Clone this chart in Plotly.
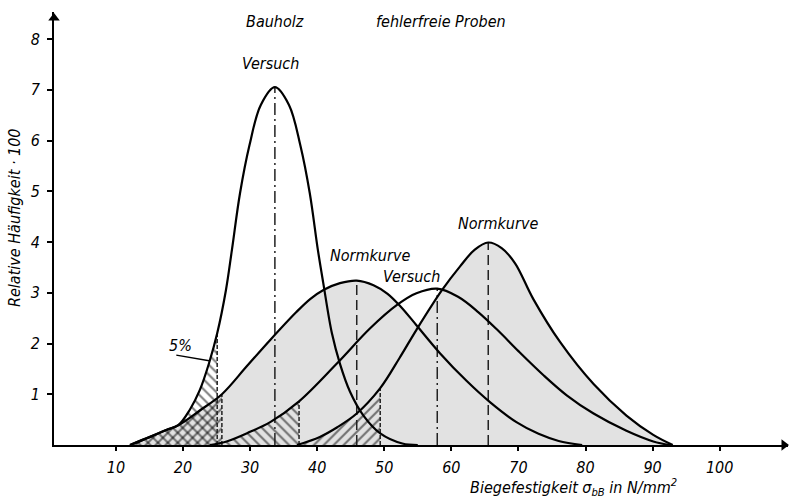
import plotly.graph_objects as go

# ---------------- data ----------------
x_ticks = [10, 20, 30, 40, 50, 60, 70, 80, 90, 100]
y_ticks = [1, 2, 3, 4, 5, 6, 7, 8]

# Bauholz – Versuch (sharp curve)
bau_versuch_x = [12.1, 15.1, 17.6, 19.3, 21.0, 22.5, 23.9, 25.1, 26.4, 27.3, 28.5, 29.9, 31.6, 33.7,
                 35.8, 37.5, 38.9, 40.1, 40.9, 42.2, 43.4, 44.9, 46.9, 49.4, 52.7, 55.0]
bau_versuch_y = [0, 0.16, 0.30, 0.39, 0.69, 1.08, 1.62, 2.20, 3.05, 3.85, 4.96, 5.90, 6.70, 7.05,
                 6.70, 5.90, 4.96, 3.85, 3.20, 2.20, 1.60, 1.05, 0.58, 0.23, 0.03, 0]
# Bauholz – Normkurve
bau_norm_x = [12.1, 15.1, 17.6, 19.3, 22.5, 25.8, 29.5, 33.0, 36.9, 39.0, 41.0, 43.4, 45.9, 48.4,
              50.5, 52.5, 54.8, 58.3, 62.3, 65.8, 69.7, 73.0, 76.0, 79.5]
bau_norm_y = [0, 0.16, 0.30, 0.39, 0.68, 1.00, 1.55, 2.07, 2.62, 2.88, 3.06, 3.19, 3.24, 3.15,
              2.98, 2.72, 2.36, 1.81, 1.26, 0.84, 0.45, 0.22, 0.08, 0]
# fehlerfreie Proben – Versuch
ff_versuch_x = [24.0, 26.5, 30.0, 33.0, 37.3, 42.9, 47.9, 51.9, 54.8, 57.9, 61.0, 64.0, 67.0,
                70.0, 73.7, 77.2, 81.2, 86.1, 90.1, 92.6]
ff_versuch_y = [0, 0.07, 0.26, 0.45, 0.86, 1.60, 2.30, 2.76, 2.99, 3.08, 2.92, 2.62, 2.25,
                1.85, 1.38, 0.98, 0.62, 0.28, 0.07, 0]
# fehlerfreie Proben – Normkurve
ff_norm_x = [37.0, 40.4, 43.0, 45.9, 49.4, 52.3, 54.8, 58.6, 61.3, 63.5, 65.5, 67.5, 69.5,
             72.2, 76.2, 81.2, 86.1, 90.1, 93.0]
ff_norm_y = [0, 0.16, 0.35, 0.62, 1.12, 1.72, 2.27, 3.05, 3.52, 3.85, 3.99, 3.88, 3.58,
             2.88, 2.03, 1.20, 0.58, 0.20, 0]

# 5 % fractiles and means (x positions)
fractile_x = [25.1, 25.8, 37.3, 49.4]
mean_x = [33.7, 45.9, 57.9, 65.5]

# "5 %" leader line
leader_x = [19.0, 23.9]
leader_y = [1.77, 1.66]

curves = [(bau_versuch_x, bau_versuch_y), (bau_norm_x, bau_norm_y),
          (ff_versuch_x, ff_versuch_y), (ff_norm_x, ff_norm_y)]
hatch_shapes = ["\\", "/", "\\", "/"]
mean_dash = ["12px,4px,2px,4px", "10px,5px", "12px,4px,2px,4px", "10px,5px"]

FONT = "DejaVu Sans Condensed, Liberation Sans Narrow, sans-serif"

# pixel calibration of the drawing
PX_PER_X = 6.709
X0_PX = 48.8
PX_PER_Y = 50.75
Y0_PX = 445
W, H = 793, 503
ML, MR, MT, MB = 54, 5, 12, 58
x_range = [(ML - X0_PX) / PX_PER_X, (W - MR - X0_PX) / PX_PER_X]
y_range = [0, (Y0_PX - MT) / PX_PER_Y]

fig = go.Figure()

# stippled areas under the Normkurven
for cx, cy in [curves[1], curves[3]]:
    fig.add_trace(go.Scatter(
        x=cx, y=cy, mode="lines", line=dict(width=0, shape="spline"),
        fill="tozeroy", fillcolor="#e2e2e2",
        hoverinfo="skip", showlegend=False))

# hatched 5 % tails
for (cx, cy), q, sh in zip(curves, fractile_x, hatch_shapes):
    sx = [a for a in cx if a <= q]
    sy = cy[:len(sx)]
    fig.add_trace(go.Scatter(
        x=sx, y=sy, mode="lines", line=dict(width=0, shape="spline"),
        fill="tozeroy", fillcolor="rgba(0,0,0,0)",
        fillpattern=dict(shape=sh, fgcolor="#000000", bgcolor="rgba(0,0,0,0)", size=7, solidity=0.3),
        hoverinfo="skip", showlegend=False))

# vertical lines at fractiles and means
for (cx, cy), q in zip(curves, fractile_x):
    fig.add_trace(go.Scatter(x=[q, q], y=[0, cy[cx.index(q)]], mode="lines",
                             line=dict(color="#222", width=1.5, dash="4px,2px"),
                             hoverinfo="skip", showlegend=False))
for (cx, cy), m, d in zip(curves, mean_x, mean_dash):
    fig.add_trace(go.Scatter(x=[m, m], y=[0, cy[cx.index(m)]], mode="lines",
                             line=dict(color="#222", width=1.5, dash=d),
                             hoverinfo="skip", showlegend=False))

# curves
for cx, cy in curves:
    fig.add_trace(go.Scatter(x=cx, y=cy, mode="lines",
                             line=dict(color="black", width=2.2, shape="spline", smoothing=1),
                             hoverinfo="skip", showlegend=False))

# leader line of the "5%" label
fig.add_trace(go.Scatter(x=leader_x, y=leader_y, mode="lines",
                         line=dict(color="black", width=1.3),
                         hoverinfo="skip", showlegend=False))

# axis arrows
fig.add_trace(go.Scatter(x=[x_range[1] - 0.6], y=[0], mode="markers",
                         marker=dict(symbol="triangle-right", size=10, color="black"),
                         cliponaxis=False, hoverinfo="skip", showlegend=False))
fig.add_trace(go.Scatter(x=[x_range[0]], y=[y_range[1] - 0.12], mode="markers",
                         marker=dict(symbol="triangle-up", size=10, color="black"),
                         cliponaxis=False, hoverinfo="skip", showlegend=False))

labels = [
    ("Bauholz", 33.7, 8.35),
    ("fehlerfreie Proben", 58.5, 8.35),
    ("Versuch", 33.0, 7.51),
    ("Normkurve", 47.9, 3.74),
    ("Versuch", 54.1, 3.33),
    ("Normkurve", 67.0, 4.37),
    ("5%", 19.7, 1.97),
]
for t, lx, ly in labels:
    fig.add_annotation(x=lx, y=ly, text=t, showarrow=False, xanchor="center", yanchor="middle",
                       font=dict(family=FONT, size=16, style="italic", color="black"))

pw = W - ML - MR
ph = H - MT - MB
fig.add_annotation(xref="paper", yref="paper", x=(15 - ML) / pw, y=(Y0_PX - 218) / ph,
                   xanchor="center", yanchor="middle",
                   text="Relative Häufigkeit · 100", textangle=-90, showarrow=False,
                   font=dict(family=FONT, size=16, style="italic", color="black"))
fig.add_annotation(xref="paper", yref="paper", x=(573 - ML) / pw, y=(Y0_PX - 487) / ph,
                   xanchor="center", yanchor="middle",
                   text="Biegefestigkeit σ<sub>bB</sub> in N/mm<sup>2</sup>", showarrow=False,
                   font=dict(family=FONT, size=16, style="italic", color="black"))

fig.update_layout(
    width=W, height=H, margin=dict(l=ML, r=MR, t=MT, b=MB),
    paper_bgcolor="white", plot_bgcolor="white", showlegend=False,
    xaxis=dict(range=x_range, tickvals=x_ticks, ticks="outside", ticklen=4, tickwidth=1.5,
               tickcolor="black", showline=True, linewidth=2, linecolor="black",
               showgrid=False, zeroline=False, ticklabelstandoff=3,
               tickfont=dict(family=FONT, size=16, style="italic", color="black")),
    yaxis=dict(range=y_range, tickvals=y_ticks, ticks="outside", ticklen=5, tickwidth=1.5,
               tickcolor="black", showline=True, linewidth=2, linecolor="black",
               showgrid=False, zeroline=False, ticklabelstandoff=4,
               tickfont=dict(family=FONT, size=16, style="italic", color="black")),
)

fig.write_html("out.html")
